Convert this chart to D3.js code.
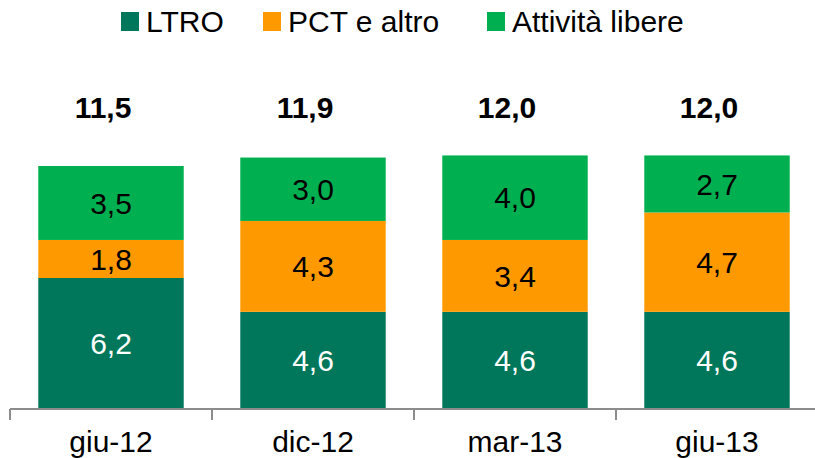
<!DOCTYPE html>
<html>
<head>
<meta charset="utf-8">
<script src="https://cdn.jsdelivr.net/npm/d3@7"></script>
<style>
  body { margin: 0; background: #fff; }
  text { font-family: "Liberation Sans", "Noto Sans", sans-serif; }
</style>
</head>
<body>
<div id="chart"></div>
<script>
// data
var categories = ["giu-12", "dic-12", "mar-13", "giu-13"];
var seriesNames = ["LTRO", "PCT e altro", "Attività libere"];
var ltro = [6.2, 4.6, 4.6, 4.6];
var pct = [1.8, 4.3, 3.4, 4.7];
var libere = [3.5, 3.0, 4.0, 2.7];
var totals = [11.5, 11.9, 12.0, 12.0];

var colors = ["#00775a", "#ff9900", "#00b050"];
var labelColors = ["#ffffff", "#000000", "#000000"];

var width = 815, height = 458;
var margin = {top: 0, right: 0, bottom: 49, left: 10};

var svg = d3.select("#chart")
    .append("svg")
    .attr("width", width)
    .attr("height", height);

// build rows for stacking
var rows = categories.map(function(c, i) {
    return {cat: c, "LTRO": ltro[i], "PCT e altro": pct[i], "Attività libere": libere[i], total: totals[i]};
});

var stack = d3.stack().keys(seriesNames);
var layers = stack(rows);

var x = d3.scaleBand()
    .domain(categories)
    .range([margin.left, margin.left + 202 * 4])
    .paddingInner(0.28)
    .paddingOuter(0.14);

var y = d3.scaleLinear()
    .domain([0, 11.5])
    .range([height - margin.bottom, 166]);

var fmt = function(v) { return d3.format(".1f")(v).replace(".", ","); };

// bars
var g = svg.append("g");
layers.forEach(function(layer, k) {
    var lg = g.append("g");
    lg.selectAll("rect")
        .data(layer)
        .enter().append("rect")
        .attr("x", function(d) { return x(d.data.cat); })
        .attr("width", x.bandwidth())
        .attr("y", function(d) { return y(d[1]); })
        .attr("height", function(d) { return y(d[0]) - y(d[1]); })
        .attr("fill", colors[k]);

    lg.selectAll("text")
        .data(layer)
        .enter().append("text")
        .attr("x", function(d) { return x(d.data.cat) + x.bandwidth() / 2; })
        .attr("y", function(d) { return (y(d[0]) + y(d[1])) / 2; })
        .attr("dy", "0.36em")
        .attr("text-anchor", "middle")
        .attr("font-size", 30)
        .attr("fill", labelColors[k])
        .text(function(d) { return fmt(d[1] - d[0]); });
});

// totals (sit a little left of bar centre, as in the original)
svg.append("g").selectAll("text")
    .data(rows)
    .enter().append("text")
    .attr("x", function(d) { return x(d.cat) + x.bandwidth() / 2 - 8; })
    .attr("y", 118)
    .attr("text-anchor", "middle")
    .attr("font-size", 30)
    .attr("font-weight", "bold")
    .attr("fill", "#000")
    .text(function(d) { return fmt(d.total); });

// x axis
var step = x.step();
var axisY = height - margin.bottom;
var ax = svg.append("g");
ax.append("line")
    .attr("x1", margin.left).attr("x2", width)
    .attr("y1", axisY).attr("y2", axisY)
    .attr("stroke", "#8c8c8c").attr("stroke-width", 2);
ax.selectAll(".tick")
    .data(d3.range(categories.length + 1))
    .enter().append("line")
    .attr("x1", function(i) { return margin.left + i * step; })
    .attr("x2", function(i) { return margin.left + i * step; })
    .attr("y1", axisY).attr("y2", axisY + 11)
    .attr("stroke", "#8c8c8c").attr("stroke-width", 2);
ax.selectAll("text")
    .data(categories)
    .enter().append("text")
    .attr("x", function(d) { return x(d) + x.bandwidth() / 2; })
    .attr("y", 452)
    .attr("text-anchor", "middle")
    .attr("font-size", 30)
    .attr("fill", "#000")
    .text(function(d) { return d; });

// legend
var legendX = [121, 263, 487];
var legend = svg.append("g");
seriesNames.forEach(function(name, k) {
    legend.append("rect")
        .attr("x", legendX[k]).attr("y", 12)
        .attr("width", 18).attr("height", 19)
        .attr("fill", colors[k]);
    legend.append("text")
        .attr("x", legendX[k] + 25).attr("y", 32)
        .attr("font-size", 30)
        .attr("fill", "#000")
        .text(name);
});
</script>
</body>
</html>
